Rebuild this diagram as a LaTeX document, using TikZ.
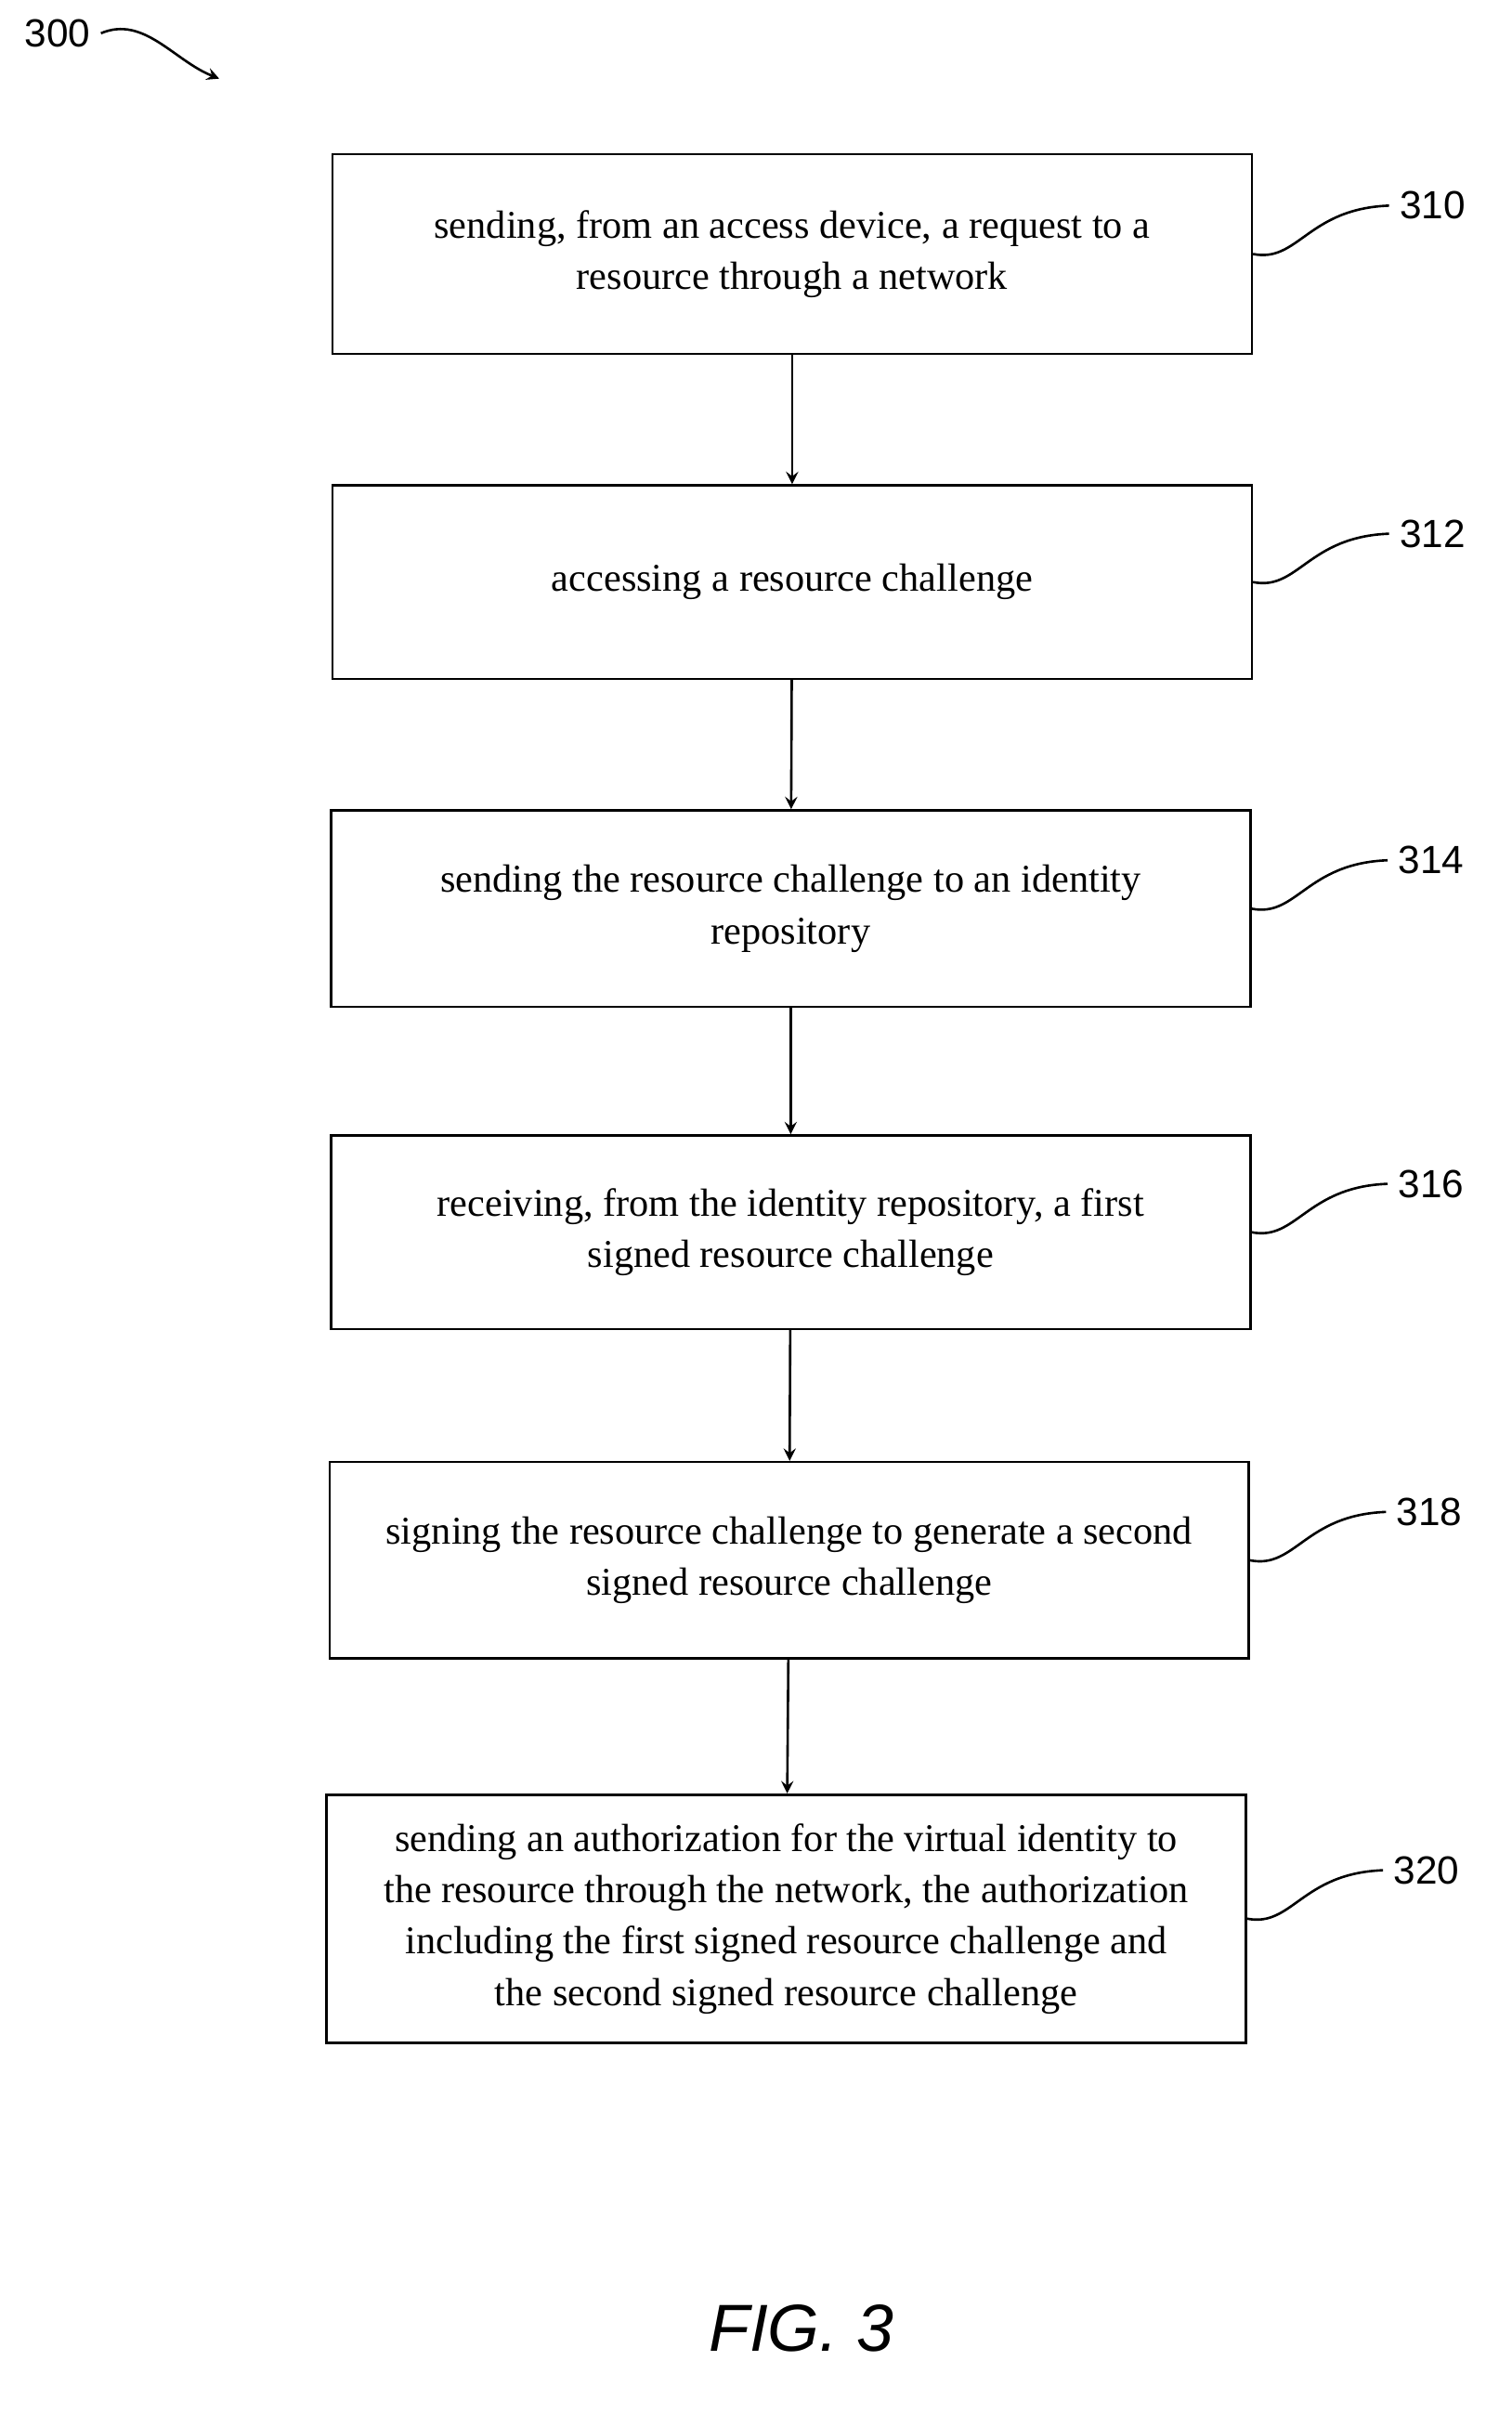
\documentclass[tikz,border=0pt]{standalone}
\usepackage{fontspec}
\setmainfont{Liberation Serif}
\newfontfamily\labelfont{Liberation Sans}
\usetikzlibrary{positioning}
\tikzset{stepbox/.style = {draw, thick, align=center, minimum width=304pt, font=\fontsize{13}{17}\selectfont}}
\tikzset{edge/.style = {->, thick, >=stealth}}
\tikzset{ref/.style = {font=\labelfont\fontsize{13}{15}\selectfont, anchor=west}}
\begin{document}
\begin{tikzpicture}[x=0.5pt,y=-0.5pt]
		\useasboundingbox (0,0) rectangle (1000,1596);
		%figure number
		\node[font=\labelfont\fontsize{13}{15}\selectfont](N) at (38,22){300};
		\coordinate (Ne) at (145,52);
		\draw[edge] (N.east) .. controls (95,10) and (115,40) .. (Ne);

		%draw boxes
		\node[stepbox, minimum height=66pt](S1) at (524,168){sending, from an access device, a request to a\\resource through a network};
		\node[stepbox, minimum height=64pt](S2) at (524,385){accessing a resource challenge};
		\node[stepbox, minimum height=65pt](S3) at (523,601){sending the resource challenge to an identity\\repository};
		\node[stepbox, minimum height=64pt](S4) at (523,815){receiving, from the identity repository, a first\\signed resource challenge};
		\node[stepbox, minimum height=65pt](S5) at (522,1032){signing the resource challenge to generate a second\\signed resource challenge};
		\node[stepbox, minimum height=82pt](S6) at (520,1269){sending an authorization for the virtual identity to\\the resource through the network, the authorization\\including the first signed resource challenge and\\the second signed resource challenge};

		%draw arrows
		\draw[edge] (S1) -- (S2);
		\draw[edge] (S2) -- (S3);
		\draw[edge] (S3) -- (S4);
		\draw[edge] (S4) -- (S5);
		\draw[edge] (S5) -- (S6);

		%draw reference labels
		\foreach \s/\n in {S1/310,S2/312,S3/314,S4/316,S5/318,S6/320}{
			\node[ref](L\n) at ([xshift=45pt,yshift=16pt]\s.east){\n};
			\draw[thick] (\s.east) .. controls ([xshift=15pt,yshift=-3pt]\s.east) and ([xshift=18pt,yshift=15pt]\s.east) .. (L\n.west);
		}

		\node[font=\labelfont\itshape\fontsize{22}{24}\selectfont](F) at (530,1540){FIG. 3};
\end{tikzpicture}
\end{document}
